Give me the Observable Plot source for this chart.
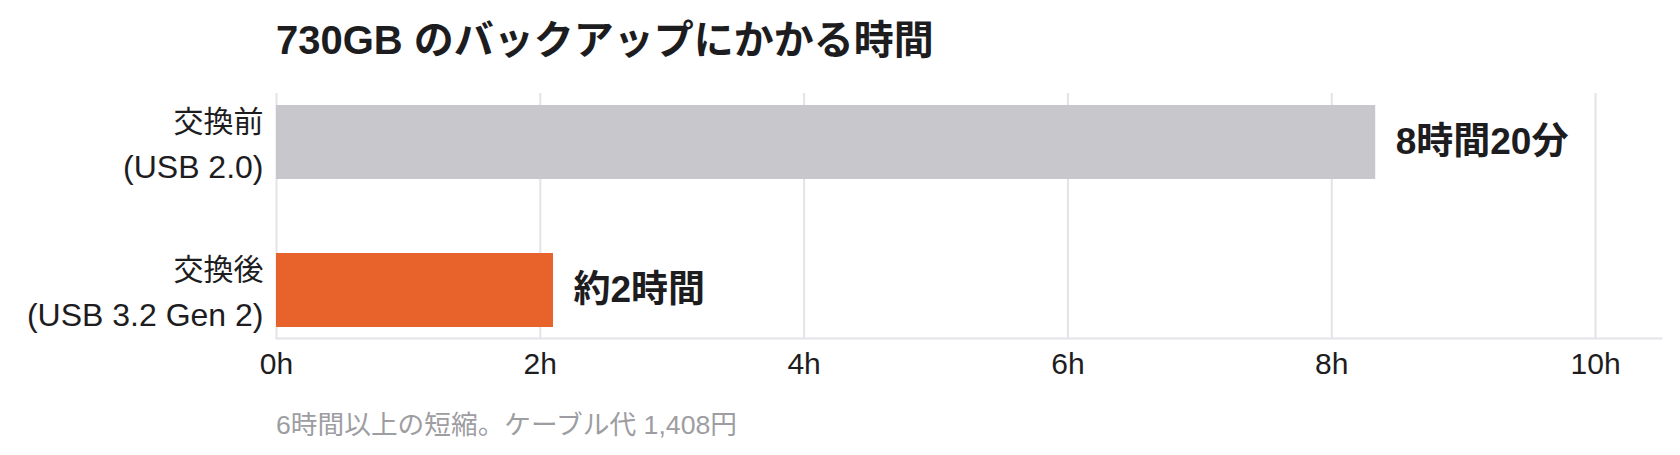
<!DOCTYPE html>
<html>
<head>
<meta charset="utf-8">
<script src="https://cdn.jsdelivr.net/npm/d3@7"></script>
<script src="https://cdn.jsdelivr.net/npm/@observablehq/plot@0.6"></script>
<style>
  html, body { margin: 0; padding: 0; background: #ffffff; }
  body { width: 1680px; height: 455px; position: relative; overflow: hidden;
         font-family: "Liberation Sans", "Noto Sans CJK JP", sans-serif; }
  #title { position: absolute; left: 276px; top: 20px; font-size: 40px; line-height: 40px;
           font-weight: 700; color: #1d1d1f; white-space: nowrap; }
  #chart { position: absolute; left: 0; top: 80px; }
  #footer { position: absolute; left: 276px; top: 412px; font-size: 26.7px; line-height: 27px;
            color: #9d9da2; white-space: nowrap; }
</style>
</head>
<body>
<div id="title"></div>
<div id="chart"></div>
<div id="footer"></div>
<script>
const titleText = "730GB のバックアップにかかる時間";
const footerText = "6時間以上の短縮。ケーブル代 1,408円";
const categories = ["交換前", "交換後"];
const subLabels = ["(USB 2.0)", "(USB 3.2 Gen 2)"];
const hours = [8.3333, 2.1];
const valueLabels = ["8時間20分", "約2時間"];
const xTicks = [0, 2, 4, 6, 8, 10];

const data = categories.map((c, i) => ({
  category: c, sub: subLabels[i], hours: hours[i], valueLabel: valueLabels[i]
}));

document.getElementById("title").textContent = titleText;
document.getElementById("footer").textContent = footerText;

const fontFamily = '"Liberation Sans", "Noto Sans CJK JP", sans-serif';

const chart = Plot.plot({
  width: 1680,
  height: 320,
  marginTop: 13,
  marginBottom: 62,
  marginLeft: 276,
  marginRight: 19,
  style: { fontFamily, background: "transparent", color: "#1d1d1f" },
  x: { domain: [0, 10.5], label: null },
  y: { domain: categories, paddingInner: 0.5, paddingOuter: 0.074, axis: null },
  color: { domain: categories, range: ["#c7c7cc", "#e8622c"] },
  marks: [
    Plot.gridX(xTicks, { stroke: "#e3e3e8", strokeOpacity: 1, strokeWidth: 2 }),
    Plot.frame({ anchor: "bottom", stroke: "#e3e3e8", strokeOpacity: 1, strokeWidth: 2 }),
    Plot.barX(data, { x: "hours", y: "category", fill: "category" }),
    Plot.text(data, {
      x: "hours", y: "category", text: "valueLabel", textAnchor: "start",
      dx: 20, fontSize: 37, fontWeight: 700, fill: "#1d1d1f"
    }),
    Plot.text(data, {
      x: 0, y: "category", text: "category",
      textAnchor: "end", dx: -13, dy: -20, fontSize: 30, fill: "#1d1d1f"
    }),
    Plot.text(data, {
      x: 0, y: "category", text: "sub",
      textAnchor: "end", dx: -13, dy: 25, fontSize: 32, fill: "#1d1d1f"
    }),
    Plot.axisX({
      ticks: xTicks, tickFormat: d => d + "h", tickSize: 0, tickPadding: 14,
      fontSize: 30, label: null, fill: "#1d1d1f"
    })
  ]
});
document.getElementById("chart").appendChild(chart);
</script>
</body>
</html>
